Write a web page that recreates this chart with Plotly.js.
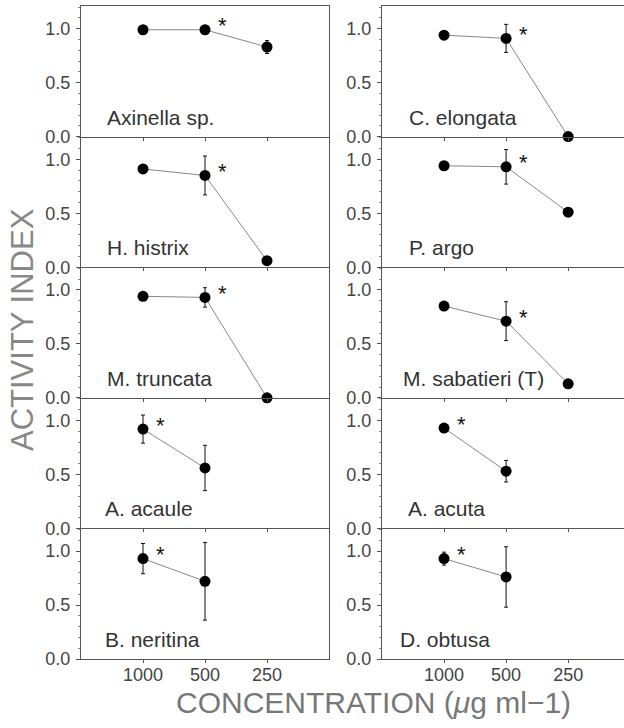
<!DOCTYPE html>
<html><head><meta charset="utf-8">
<script src="https://cdn.plot.ly/plotly-3.0.1.min.js"></script>
<style>body{margin:0;background:#fff}</style>
</head><body><div id="chart" style="width:624px;height:728px"></div>
<script>
// ---- data ----
const concentrations = ['1000', '500', '250'];
const yTickValues = [0, 0.5, 1.0];
const yTickLabels = ['0.0', '0.5', '1.0'];

const leftSpecies  = ['Axinella sp.', 'H. histrix', 'M. truncata', 'A. acaule', 'B. neritina'];
const rightSpecies = ['C. elongata', 'P. argo', 'M. sabatieri (T)', 'A. acuta', 'D. obtusa'];

const axinellaMean   = [0.99, 0.99, 0.83];  const axinellaErr   = [0, 0, 0.06];
const histrixMean    = [0.91, 0.85, 0.06];  const histrixErr    = [0, 0.18, 0.03];
const truncataMean   = [0.94, 0.93, 0.00];  const truncataErr   = [0, 0.09, 0];
const acauleMean     = [0.92, 0.56, null];  const acauleErr     = [0.13, 0.21, 0];
const neritinaMean   = [0.93, 0.72, null];  const neritinaErr   = [0.14, 0.36, 0];

const elongataMean   = [0.94, 0.91, 0.00];  const elongataErr   = [0, 0.13, 0];
const argoMean       = [0.94, 0.93, 0.51];  const argoErr       = [0, 0.16, 0.04];
const sabatieriMean  = [0.85, 0.71, 0.13];  const sabatieriErr  = [0, 0.18, 0];
const acutaMean      = [0.93, 0.53, null];  const acutaErr      = [0.02, 0.10, 0];
const obtusaMean     = [0.93, 0.76, null];  const obtusaErr     = [0.06, 0.28, 0];

// index of the concentration marked with an asterisk
const leftStars  = [1, 1, 1, 0, 0];
const rightStars = [1, 1, 1, 0, 0];

const leftMeans  = [axinellaMean, histrixMean, truncataMean, acauleMean, neritinaMean];
const leftErrs   = [axinellaErr, histrixErr, truncataErr, acauleErr, neritinaErr];
const rightMeans = [elongataMean, argoMean, sabatieriMean, acutaMean, obtusaMean];
const rightErrs  = [elongataErr, argoErr, sabatieriErr, acutaErr, obtusaErr];

// ---- layout building ----
const W = 624, H = 728, ML = 81, MR = 0, MT = 6, MB = 69;
const plotW = W - ML - MR;
const colDomains = [[0, 248 / plotW], [301 / plotW, 1]];
const xRanges = [[-1, 3], [-1, 2.9]];
const labelX = [[-0.62, -0.62, -0.62, -0.64, -0.64], [-0.6, -0.6, -0.7, -0.62, -0.74]];
const tickFont = {family: 'Liberation Sans, Arial, sans-serif', size: 18, color: '#444'};
const axisColor = '#555';

const traces = [];
const layout = {
  width: W, height: H,
  margin: {l: ML, r: MR, t: MT, b: MB},
  paper_bgcolor: '#fff', plot_bgcolor: 'rgba(0,0,0,0)',
  showlegend: false,
  annotations: []
};

const cols = [
  {names: leftSpecies, means: leftMeans, errs: leftErrs, stars: leftStars},
  {names: rightSpecies, means: rightMeans, errs: rightErrs, stars: rightStars}
];

let k = 0;
cols.forEach((col, c) => {
  col.names.forEach((name, r) => {
    k++;
    const xa = 'x' + (k === 1 ? '' : k), ya = 'y' + (k === 1 ? '' : k);
    const xKey = 'xaxis' + (k === 1 ? '' : k), yKey = 'yaxis' + (k === 1 ? '' : k);
    traces.push({
      type: 'scatter', mode: 'lines+markers',
      x: concentrations, y: col.means[r],
      xaxis: xa, yaxis: ya,
      cliponaxis: false,
      line: {color: '#888', width: 1},
      marker: {color: '#000', size: 11},
      error_y: {type: 'data', array: col.errs[r], visible: true, color: '#111', thickness: 1, width: 2}
    });
    layout[xKey] = {
      domain: colDomains[c], anchor: ya,
      type: 'category', categoryorder: 'array', categoryarray: concentrations,
      range: xRanges[c],
      showline: true, linecolor: axisColor, linewidth: 1,
      mirror: r === 0,
      ticks: 'outside', ticklen: 3, tickcolor: axisColor,
      showticklabels: r === 4, tickfont: tickFont, ticklabelstandoff: -4,
      showgrid: false, zeroline: false, fixedrange: true
    };
    layout[yKey] = {
      domain: [1 - (r + 1) / 5, 1 - r / 5], anchor: xa,
      range: [0, 1.21],
      tickmode: 'array', tickvals: yTickValues, ticktext: yTickLabels,
      ticks: 'outside', ticklen: 4, tickcolor: axisColor,
      tickfont: tickFont, ticklabelstandoff: 2,
      minor: {tickmode: 'linear', tick0: 0, dtick: 0.1, ticks: 'outside', ticklen: 2, tickcolor: '#888'},
      showline: true, linecolor: axisColor, linewidth: 1,
      mirror: c === 0,
      showgrid: false, zeroline: false, fixedrange: true
    };
    layout.annotations.push({
      xref: xa, yref: ya, x: labelX[c][r], y: 0.18,
      xanchor: 'left', yanchor: 'middle', showarrow: false,
      text: name, font: {family: 'Liberation Sans, Arial, sans-serif', size: 21, color: '#333'}
    });
    const s = col.stars[r];
    layout.annotations.push({
      xref: xa, yref: ya, x: s, y: col.means[r][s],
      xanchor: 'center', yanchor: 'middle', xshift: 17, yshift: 4, showarrow: false,
      text: '*', font: {family: 'Liberation Sans, Arial, sans-serif', size: 22, color: '#111'}
    });
  });
});

layout.annotations.push({
  xref: 'paper', yref: 'paper', x: (22 - ML) / plotW, y: 1 - (330 - MT) / (H - MT - MB),
  xanchor: 'center', yanchor: 'middle', textangle: -90, showarrow: false,
  text: 'ACTIVITY INDEX', font: {family: 'Liberation Sans, Arial, sans-serif', size: 31, color: '#888'}
});
layout.annotations.push({
  xref: 'paper', yref: 'paper', x: (373 - ML) / plotW, y: 1 - (702 - MT) / (H - MT - MB),
  xanchor: 'center', yanchor: 'middle', showarrow: false,
  text: 'CONCENTRATION (<i>μ</i>g ml−1)', font: {family: 'Liberation Sans, Arial, sans-serif', size: 30, color: '#777'}
});

Plotly.newPlot('chart', traces, layout, {staticPlot: true, displayModeBar: false});
</script></body></html>
